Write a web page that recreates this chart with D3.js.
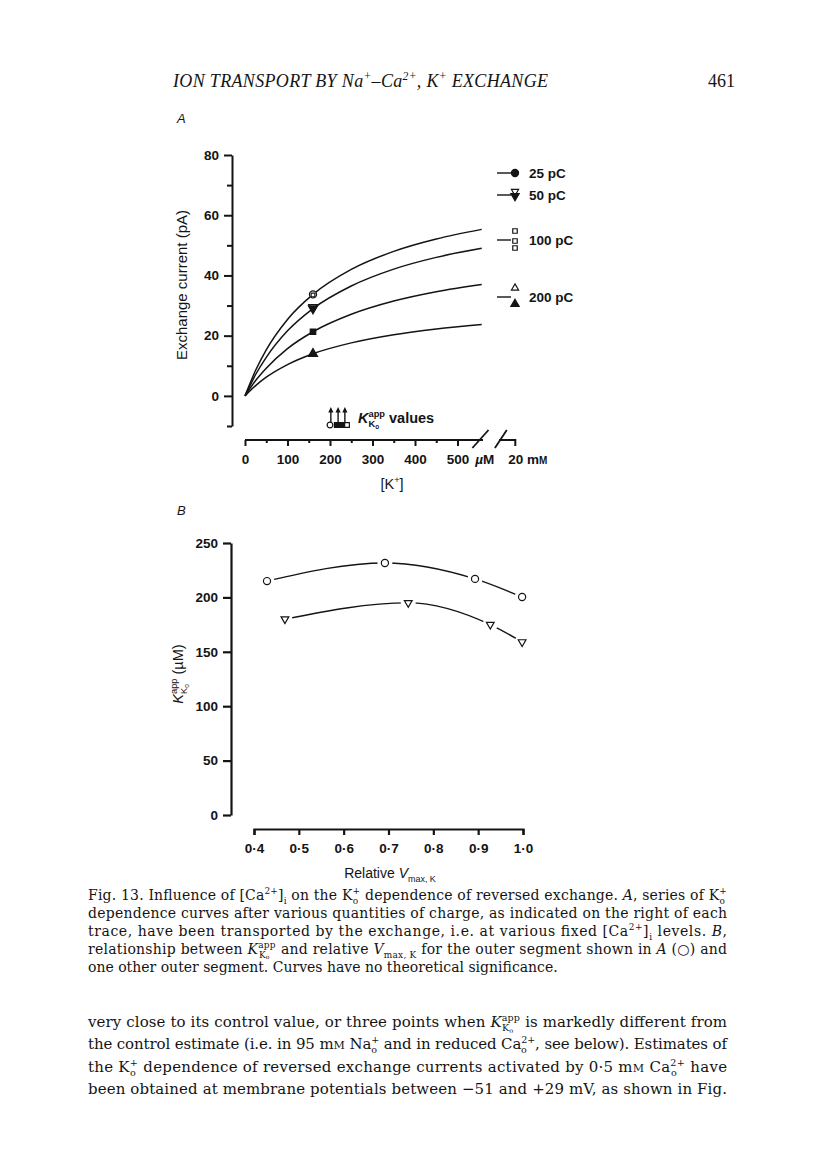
<!DOCTYPE html>
<html><head><meta charset="utf-8">
<script src="https://cdn.jsdelivr.net/npm/d3@7"></script>
<style>body{margin:0;background:#fff} svg{display:block}</style>
</head><body><svg id="c" width="816" height="1176"></svg>
<script>
// ---------- DATA ----------
// Panel A: K+ concentration (uM) samples along each fitted curve
const kA = [0, 25, 50, 100, 160, 250, 350, 450, 557];
const cur25 = [0, 8.5, 15.3, 25.4, 33.7, 42.0, 48.0, 52.1, 55.3];
const cur50 = [0, 7.1, 12.8, 21.6, 29.0, 36.5, 42.1, 46.0, 49.0];
const cur100 = [0, 5.1, 9.2, 15.7, 21.3, 27.1, 31.5, 34.6, 37.0];
const cur200 = [0, 3.4, 6.2, 10.4, 14.0, 17.6, 20.3, 22.2, 23.7];
const seriesLabels = ['25 pC', '50 pC', '100 pC', '200 pC'];
const pointK = 160;
const pointVals = [33.7, 29.0, 21.3, 14.0];
const kappArrows = [202, 219, 235];
const kappSymbols = [200, 216, 228, 240];
const yTicksA = [0, 20, 40, 60, 80];
const yMinorA = [-10, 10, 30, 50, 70];
const xTicksA = [0, 100, 200, 300, 400, 500];
const xMinorA = [50, 150, 250, 350, 450];
// Panel B
const vmaxCircle = [0.429, 0.692, 0.893, 0.998];
const kappCircle = [215, 231.6, 217, 200.4];
const vmaxTri = [0.469, 0.744, 0.927, 0.998];
const kappTri = [180, 195, 175, 159];
const yTicksB = [0, 50, 100, 150, 200, 250];
const xTicksB = [0.4, 0.5, 0.6, 0.7, 0.8, 0.9, 1.0];

// ---------- HELPERS ----------
const INK = '#141414';
const SANS = "'Liberation Sans', Arial, Helvetica, sans-serif";
const SERIF = "'DejaVu Serif', 'Liberation Serif', serif";
const SERIF_H = "'Liberation Serif', 'Times New Roman', serif";
const svg = d3.select('#c');
const ctx = document.createElement('canvas').getContext('2d');
function textW(s, size, fam, italic, weight) {
  ctx.font = `${italic ? 'italic ' : ''}${weight || 'normal'} ${size}px ${fam}`;
  return ctx.measureText(s).width;
}
function rich(parent, x, y, parts, o) {
  const fs = o.size, fam = o.family, wt = o.weight || 'normal';
  const t = parent.append('text').attr('x', x).attr('y', y)
    .attr('font-family', fam).attr('font-size', fs).attr('font-weight', wt).attr('fill', INK);
  if (o.anchor) t.attr('text-anchor', o.anchor);
  if (o.transform) t.attr('transform', o.transform);
  if (o.italic) t.attr('font-style', 'italic');
  if (o.length) t.attr('textLength', o.length).attr('lengthAdjust', 'spacing');
  let shift = 0, pend = 0;
  const add = (s, target, size, italic, dx) => {
    const ts = t.append('tspan').attr('dy', (target - shift).toFixed(2)).text(s);
    shift = target;
    if (size !== fs) ts.attr('font-size', size.toFixed(2));
    if (italic) ts.attr('font-style', 'italic');
    const d = (dx || 0) + pend; pend = 0;
    if (d) ts.attr('dx', d.toFixed(2));
    return ts;
  };
  parts.forEach(p => {
    const s = p[0], st = (p[1] || '').split(' ');
    const it = st.includes('i');
    const ss = fs * 0.64;
    if (st.includes('sup')) add(s, -0.4 * fs, ss, it);
    else if (st.includes('sub')) add(s, 0.26 * fs, ss, it);
    else if (st.includes('small')) add(s, 0, fs * 0.74, it);
    else if (st.includes('stack')) {
      const [a, b, c] = s.split('|');
      add(a, -0.42 * fs, ss, it);
      const wa = textW(a, ss, fam, it, wt);
      let wb = textW(b, ss, fam, it, wt);
      add(b, 0.27 * fs, ss, it, -wa);
      if (c) { add(c, 0.38 * fs, fs * 0.44, it); wb += textW(c, fs * 0.44, fam, it, wt); }
      if (wa > wb) pend = wa - wb;
    } else add(s, 0, fs, it);
  });
  return t;
}
function sym(g, type, x, y, size, filled, rot) {
  g.append('path').attr('d', d3.symbol().type(type).size(size)())
    .attr('transform', `translate(${x},${y})${rot ? ' rotate(180)' : ''}`)
    .attr('fill', filled ? INK : '#fff').attr('stroke', INK).attr('stroke-width', 1.2);
}

// ---------- HEADER ----------
rich(svg, 173, 87, [['ION TRANSPORT BY Na'], ['+', 'sup'], ['–Ca'], ['2+', 'sup'], [', K'], ['+', 'sup'], [' EXCHANGE']],
  { size: 18, family: SERIF_H, italic: true, length: 375 });
svg.append('text').attr('x', 735).attr('y', 87).attr('text-anchor', 'end')
  .attr('font-family', SERIF_H).attr('font-size', 18).attr('fill', INK).text('461');

// ---------- PANEL A ----------
const gA = svg.append('g');
gA.append('text').attr('x', 177).attr('y', 123).attr('font-family', SANS).attr('font-size', 13)
  .attr('font-style', 'italic').attr('fill', INK).text('A');

const xA = d3.scaleLinear().domain([0, 500]).range([245, 457.5]);
const yA = d3.scaleLinear().domain([-10, 80]).range([426, 155]);

const yAx = gA.append('g').attr('transform', 'translate(232,0)')
  .call(d3.axisLeft(yA).tickValues(yTicksA).tickSize(8).tickSizeOuter(0).tickPadding(5));
const yAxm = gA.append('g').attr('transform', 'translate(232,0)')
  .call(d3.axisLeft(yA).tickValues(yMinorA).tickSize(5).tickSizeOuter(0).tickFormat(''));
yAxm.select('.domain').remove();

const xAx = gA.append('g').attr('transform', 'translate(0,440)')
  .call(d3.axisBottom(xA).tickValues(xTicksA).tickSize(6).tickSizeOuter(0).tickPadding(8));
xAx.select('.domain').remove();
const xAxm = gA.append('g').attr('transform', 'translate(0,440)')
  .call(d3.axisBottom(xA).tickValues(xMinorA).tickSize(3).tickFormat(''));
xAxm.select('.domain').remove();
// broken axis line
const bx1 = xA(560), bx2 = xA(598), bEnd = xA(636);
gA.append('path').attr('d', `M${xA(0)},440H${bx1}M${bx2},440H${bEnd}V446`)
  .attr('fill', 'none').attr('stroke', INK).attr('stroke-width', 2);
[[xA(535), xA(573)], [xA(588), xA(616)]].forEach(([a, b]) =>
  gA.append('line').attr('x1', a).attr('y1', 448).attr('x2', b).attr('y2', 430)
    .attr('stroke', INK).attr('stroke-width', 1.8));
rich(gA, xA(564), 464, [['\u00b5', 'i'], ['M']], { size: 13.5, family: SANS, weight: 'bold', anchor: 'middle' });
rich(gA, bEnd - 7, 464, [['20 m'], ['M', 'small']], { size: 13.5, family: SANS, weight: 'bold' });
rich(gA, 392, 489, [['[K'], ['+', 'sup'], [']']], { size: 14.5, family: SANS, anchor: 'middle' });

[yAx, yAxm, xAx, xAxm].forEach(a => {
  a.selectAll('line').attr('stroke', INK).attr('stroke-width', 2);
  a.selectAll('.domain').attr('stroke', INK).attr('stroke-width', 2);
  a.selectAll('text').attr('font-family', SANS).attr('font-size', 13.5).attr('font-weight', 'bold').attr('fill', INK);
});

rich(gA, 0, 0, [['Exchange current (pA)']], { size: 15, family: SANS, anchor: 'middle', transform: 'translate(187,285) rotate(-90)' });

const lineA = d3.line().x((d, i) => xA(kA[i])).y(d => yA(d)).curve(d3.curveMonotoneX);
[cur25, cur50, cur100, cur200].forEach(s =>
  gA.append('path').attr('d', lineA(s)).attr('fill', 'none').attr('stroke', INK).attr('stroke-width', 1.5));

const px = xA(pointK);
sym(gA, d3.symbolCircle, px, yA(pointVals[0]), 40, false);
sym(gA, d3.symbolSquare, px, yA(pointVals[0]) + 0.5, 14, false);
sym(gA, d3.symbolTriangle, px, yA(pointVals[1]) - 1.5, 32, false, true);
sym(gA, d3.symbolTriangle, px, yA(pointVals[1]), 36, true, true);
sym(gA, d3.symbolSquare, px, yA(pointVals[2]), 30, true);
sym(gA, d3.symbolTriangle, px, yA(pointVals[3]), 36, true);

// Kapp arrows
kappArrows.forEach(k => {
  const x = xA(k);
  gA.append('line').attr('x1', x).attr('x2', x).attr('y1', 422).attr('y2', 411)
    .attr('stroke', INK).attr('stroke-width', 1.4);
  gA.append('path').attr('d', `M${x - 2.6},${412.5}L${x},${407}L${x + 2.6},${412.5}Z`).attr('fill', INK);
});
sym(gA, d3.symbolCircle, xA(kappSymbols[0]), 425, 26, false);
sym(gA, d3.symbolSquare, xA(kappSymbols[1]), 425, 22, true);
sym(gA, d3.symbolSquare, xA(kappSymbols[2]), 425, 22, true);
sym(gA, d3.symbolSquare, xA(kappSymbols[3]), 425, 22, false);
rich(gA, 358, 423, [['K', 'i'], ['app|K|o', 'stack'], [' values']],
  { size: 14.5, family: SANS, weight: 'bold' });

// Legend
const legY = [173, 195, 240, 297];
legY.forEach((y, i) => {
  gA.append('line').attr('x1', 497).attr('x2', 511).attr('y1', y).attr('y2', y)
    .attr('stroke', INK).attr('stroke-width', 1.4);
  rich(gA, 529, y + 5, [[seriesLabels[i]]], { size: 13.5, family: SANS, weight: 'bold' });
});
sym(gA, d3.symbolCircle, 515, 173, 40, true);
sym(gA, d3.symbolTriangle, 515, 191.5, 22, false, true);
sym(gA, d3.symbolTriangle, 515, 196, 30, true, true);
sym(gA, d3.symbolSquare, 515, 231, 20, false);
sym(gA, d3.symbolSquare, 515, 241, 20, false);
sym(gA, d3.symbolSquare, 515, 248, 20, false);
sym(gA, d3.symbolTriangle, 515, 288, 22, false);
sym(gA, d3.symbolTriangle, 515, 304, 30, true);

// ---------- PANEL B ----------
const gB = svg.append('g');
gB.append('text').attr('x', 177).attr('y', 515).attr('font-family', SANS).attr('font-size', 13)
  .attr('font-style', 'italic').attr('fill', INK).text('B');

const xB = d3.scaleLinear().domain([0.4, 1.0]).range([254, 523]);
const yB = d3.scaleLinear().domain([0, 250]).range([815, 543]);

const yBx = gB.append('g').attr('transform', 'translate(231,0)')
  .call(d3.axisLeft(yB).tickValues(yTicksB).tickSize(8).tickSizeOuter(0).tickPadding(5));
const xBx = gB.append('g').attr('transform', 'translate(0,829)')
  .call(d3.axisBottom(xB).tickValues(xTicksB).tickSize(6).tickSizeOuter(6).tickPadding(8)
    .tickFormat(d => d3.format('.1f')(d).replace('.', '\u00b7')));
[yBx, xBx].forEach(a => {
  a.selectAll('line').attr('stroke', INK).attr('stroke-width', 2.2);
  a.selectAll('.domain').attr('stroke', INK).attr('stroke-width', 2.2);
  a.selectAll('text').attr('font-family', SANS).attr('font-size', 13.5).attr('font-weight', 'bold').attr('fill', INK);
});
rich(gB, 390, 878, [['Relative '], ['V', 'i'], ['max, K', 'sub']], { size: 14, family: SANS, anchor: 'middle' });
rich(gB, 0, 0, [['K', 'i'], ['app|K|o', 'stack'], [' (\u00b5M)']],
  { size: 14.5, family: SANS, anchor: 'middle', transform: 'translate(183,674) rotate(-90)' });

const lineB = d3.line().curve(d3.curveMonotoneX);
const ptsC = vmaxCircle.map((v, i) => [xB(v), yB(kappCircle[i])]);
const ptsT = vmaxTri.map((v, i) => [xB(v), yB(kappTri[i])]);
[ptsC, ptsT].forEach(p =>
  gB.append('path').attr('d', lineB(p)).attr('fill', 'none').attr('stroke', INK).attr('stroke-width', 1.4));
[...ptsC, ...ptsT].forEach(([x, y]) =>
  gB.append('circle').attr('cx', x).attr('cy', y).attr('r', 7.5).attr('fill', '#fff'));
ptsC.forEach(([x, y]) => sym(gB, d3.symbolCircle, x, y, 40, false));
ptsT.forEach(([x, y]) => sym(gB, d3.symbolTriangle, x, y, 26, false, true));

// ---------- CAPTION ----------
const capLine2 = 'dependence curves after various quantities of charge, as indicated on the right of each';
const capSize = Math.min(14, 14 * 632 / textW(capLine2, 14, SERIF));
const cap = svg.append('g');
const capO = { size: capSize, family: SERIF };
rich(cap, 88, 900, [['Fig. 13. Influence of [Ca'], ['2+', 'sup'], [']'], ['i', 'sub'], [' on the K'], ['+|o', 'stack'],
  [' dependence of reversed exchange. '], ['A', 'i'], [', series of K'], ['+|o', 'stack']], { ...capO, length: 639 });
rich(cap, 88, 918, [[capLine2]], { ...capO, length: 639 });
rich(cap, 88, 936, [['trace, have been transported by the exchange, i.e. at various fixed [Ca'], ['2+', 'sup'], [']'], ['i', 'sub'],
  [' levels. '], ['B', 'i'], [',']], { ...capO, length: 639 });
rich(cap, 88, 954, [['relationship between '], ['K', 'i'], ['app|K|o', 'stack'], [' and relative '], ['V', 'i'], ['max, K', 'sub'],
  [' for the outer segment shown in '], ['A', 'i'], [' (\u25cb) and']], { ...capO, length: 639 });
rich(cap, 88, 972, [['one other outer segment. Curves have no theoretical significance.']], { ...capO });

// ---------- BODY TEXT ----------
const bodyLine4 = 'been obtained at membrane potentials between \u221251 and +29 mV, as shown in Fig.';
const bodySize = Math.min(17.5, 17.5 * 630 / textW(bodyLine4, 17.5, SERIF));
const body = svg.append('g');
const bO = { size: bodySize, family: SERIF };
rich(body, 88, 1027, [['very close to its control value, or three points when '], ['K', 'i'], ['app|K|o', 'stack'],
  [' is markedly different from']], { ...bO, length: 639 });
rich(body, 88, 1049, [['the control estimate (i.e. in 95 m'], ['M', 'small'], [' Na'], ['+|o', 'stack'], [' and in reduced Ca'], ['2+|o', 'stack'],
  [', see below). Estimates of']], { ...bO, length: 639 });
rich(body, 88, 1072, [['the K'], ['+|o', 'stack'], [' dependence of reversed exchange currents activated by 0\u00b75 m'], ['M', 'small'],
  [' Ca'], ['2+|o', 'stack'], [' have']], { ...bO, length: 639 });
rich(body, 88, 1094, [[bodyLine4]], { ...bO, length: 639 });
</script>
</body></html>
